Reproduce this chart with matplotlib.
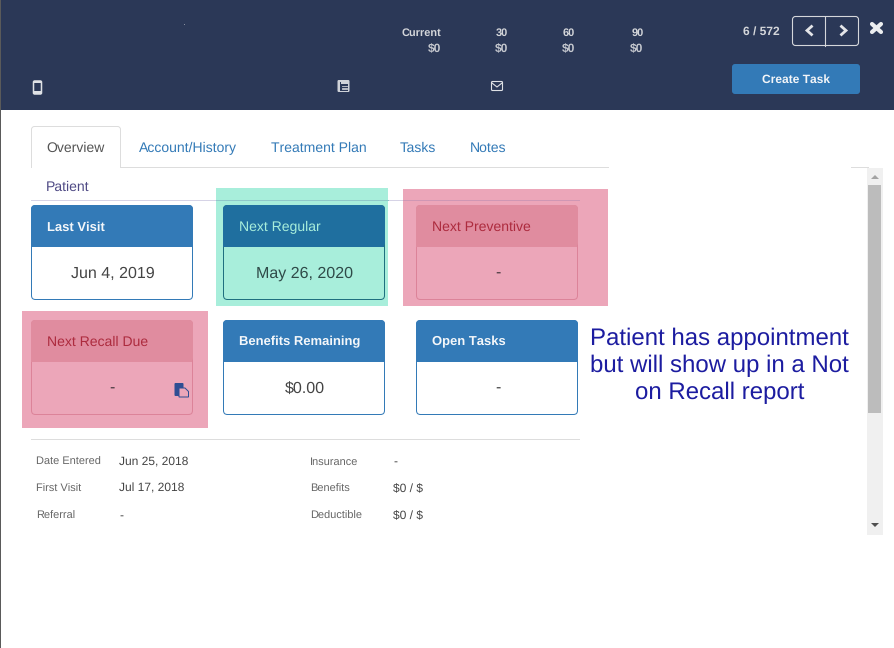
import matplotlib
matplotlib.use("Agg")
import matplotlib.pyplot as plt
from matplotlib.patches import Rectangle, FancyBboxPatch, Polygon

plt.rcParams['font.family'] = ['Liberation Sans', 'DejaVu Sans']
plt.rcParams['text.hinting'] = 'no_hinting'
plt.rcParams['text.hinting_factor'] = 1

# ---- content ----
aging_labels = ["Current", "30", "60", "90"]
aging_values = ["$0", "$0", "$0", "$0"]
pager_text = "6 / 572"
action_label = "Create Task"
tab_labels = ["Overview", "Account/History", "Treatment Plan", "Tasks", "Notes"]
section_label = "Patient"
card_titles = ["Last Visit", "Next Regular", "Next Preventive",
               "Next Recall Due", "Benefits Remaining", "Open Tasks"]
card_values = ["Jun 4, 2019", "May 26, 2020", "-", "-", "$0.00", "-"]
card_states = ["normal", "green", "red", "red", "normal", "normal"]
left_labels = ["Date Entered", "First Visit", "Referral"]
left_values = ["Jun 25, 2018", "Jul 17, 2018", "-"]
right_labels = ["Insurance", "Benefits", "Deductible"]
right_values = ["-", "$0 / $", "$0 / $"]
note_lines = ["Patient has appointment", "but will show up in a Not", "on Recall report"]

W, H = 895, 648
fig = plt.figure(figsize=(W / 100, H / 100), dpi=100, facecolor="white")
ax = fig.add_axes([0, 0, 1, 1])
ax.set_xlim(0, W)
ax.set_ylim(H, 0)
ax.axis("off")


def px(s):
    return s * 0.72


def T(x, y, s, size, color, ha="left", weight="normal", z=10):
    # y is the visual centre of the x-height band; placed via the baseline
    ax.text(x, y + 0.36 * size, s, fontsize=px(size), color=color, ha=ha, va="baseline",
            fontweight=weight, zorder=z, parse_math=False)


def R(x, y, w, h, fc, z=1):
    ax.add_patch(Rectangle((x, y), w, h, fc=fc, ec="none", lw=0, zorder=z))


def RR(x, y, w, h, fc, ec="none", lw=0.72, z=2, r=3):
    ax.add_patch(FancyBboxPatch((x + r, y + r), w - 2 * r, h - 2 * r,
                                boxstyle=f"round,pad={r},rounding_size={r}",
                                fc=fc, ec=ec, lw=lw, zorder=z))


def L(xs_, ys_, color, lw=0.72, z=3, **kw):
    ax.plot(xs_, ys_, color=color, lw=lw, zorder=z, **kw)


NAVY = "#2b3857"
BLUE = "#337ab7"

# header
R(0, 0, W, 110, NAVY)
R(0, 0, 1, H, "#5a5a5a", z=5)
ax.plot([184.5], [23.5], marker="s", ms=0.6, color="#8f96a6", zorder=3, mew=0)
for xr, lab, val in zip([441.5, 508, 575, 643.5], aging_labels, aging_values):
    T(xr, 32, lab, 11, "#d4d6da", ha="right", weight="bold")
    T(xr, 48, val, 12, "#c4c7ce", ha="right", weight="bold")
T(743, 30, pager_text, 12.2, "#d4d6da", weight="bold")

# pager buttons
RR(792.5, 16.5, 66, 29, "none", ec="#d5d7db", lw=0.8, z=3, r=3)
L([825.5, 825.5], [16.5, 45.5], "#d5d7db", lw=0.8)
L([811.5, 807, 811.5], [26.5, 30.5, 34.5], "#e4e5e8", lw=2.0, z=4, solid_joinstyle="miter")
L([841.5, 846, 841.5], [26.5, 30.5, 34.5], "#e4e5e8", lw=2.0, z=4, solid_joinstyle="miter")
# close cross
L([872, 881], [24, 32], "#eceef0", lw=3.0, z=4, solid_capstyle="round")
L([881, 872], [24, 32], "#eceef0", lw=3.0, z=4, solid_capstyle="round")
# action button
RR(732, 64, 128, 30, BLUE, z=3, r=3)
T(796, 78.5, action_label, 11.7, "#f2f5f8", ha="center", weight="bold")

# phone icon
RR(33.5, 81, 8, 13, "none", ec="#dfe1e5", lw=1.1, z=4, r=1.2)
R(34, 91, 7, 2.5, "#dfe1e5", z=4)
R(34, 81, 7, 1.5, "#dfe1e5", z=4)
# fax icon
RR(337.5, 80, 12, 12, "#cfd2d8", z=4, r=1.2)
R(341, 84, 7, 6.5, NAVY, z=5)
R(340, 81.5, 0.9, 9, NAVY, z=5)
for yy in (85.5, 87.5, 89.2):
    L([342, 347], [yy, yy], "#cfd2d8", lw=0.6, z=6)
# mail icon
RR(491.5, 81.5, 11, 9, "none", ec="#dfe1e5", lw=0.8, z=4, r=1)
L([492, 497, 502], [83, 87, 83], "#dfe1e5", lw=0.8, z=4)

# tabs
L([31, 608], [167, 167], "#dddddd")
L([851, 868], [167, 167], "#dddddd")
RR(31.5, 126.5, 89, 46, "white", ec="#dddddd", z=4, r=3)
R(31, 168, 91, 7, "white", z=5)
L([31.5, 31.5], [160, 167], "#dddddd", z=5)
L([120.5, 120.5], [160, 167], "#dddddd", z=5)
for x, lab, col in zip([46, 139, 271, 400, 470], tab_labels,
                       ["#555555", BLUE, BLUE, BLUE, BLUE]):
    T(x, 147, lab, 14, col, z=6)
T(46, 186, section_label, 14, "#4f4a85")

# highlights
R(216, 188, 172, 118, "#a8eedb", z=1)
R(403, 189, 205, 117, "#eca6b9", z=1)
R(22, 311, 186, 117, "#eca6b9", z=1)

# section rule
L([31, 579], [200, 200], "#d6d3e6", z=1.5)
L([216, 388], [200, 200], "#8fc8c9", z=1.6)
L([403, 579], [200, 200], "#cf97b4", z=1.6)

# cards
xs = [31, 223, 416, 31, 223, 416]
ys = [205, 205, 205, 320, 320, 320]
STY = {
    "normal": dict(head=BLUE, body="white", edge=BLUE, title="#f4f7fa", val="#444444"),
    "green": dict(head="#1f6f9f", body="#a8eedb", edge="#1f6f7f", title="#a8eedb", val="#2f4a48"),
    "red": dict(head="#e08c9f", body="#eca6b9", edge="#dc8399", title="#ad2b3e", val="#4a3a40"),
}
for x, y, title, val, st in zip(xs, ys, card_titles, card_values, card_states):
    s = STY[st]
    w, h = 162, 95
    RR(x + .5, y + .5, w - 1, h - 1, s["body"], ec=s["edge"], z=2, r=4)
    RR(x + .5, y + .5, w - 1, 41, s["head"], ec=s["head"], z=3, r=4)
    R(x + .5, y + 30, w - 1, 12, s["head"], z=3)
    bold = st == "normal"
    T(x + 16, y + 21, title, 13.1 if bold else 14, s["title"],
      weight="bold" if bold else "normal", z=6)
    cx = 112 if title == "Next Recall Due" else x + 81.5
    T(cx, y + 67, val, 16, s["val"], ha="center", z=6)

# recall icon
RR(174.5, 383, 9, 13, "#2f4e93", z=6, r=1)
ax.add_patch(Polygon([(179, 388), (185, 388), (188.5, 391.5), (188.5, 397), (179, 397)],
                     closed=True, fc="#eca6b9", ec="#2f4e93", lw=0.72, zorder=7))

# details
L([31, 579], [439, 439], "#dddddd", z=2)
for y, a, b, c, d in zip([460.5, 487.5, 514.5], left_labels, left_values, right_labels, right_values):
    T(36, y, a, 11, "#666666")
    T(119, y, b, 12, "#444444")
    T(310, y, c, 11, "#666666")
    T(393, y, d, 12, "#444444")

# annotation
for y, line in zip([336.5, 363.5, 390.5], note_lines):
    T(719.5, y, line, 24.4, "#1c1ca0", ha="center", z=8)

# scrollbar
R(867, 168, 16, 367, "#f0f0f0", z=2)
R(868, 185, 13, 228, "#bcbcbc", z=3)
ax.add_patch(Polygon([(871, 179), (875, 175), (879, 179)], closed=True, fc="#a3a3a3", ec="none", zorder=4))
ax.add_patch(Polygon([(871, 523), (875, 527), (879, 523)], closed=True, fc="#505050", ec="none", zorder=4))

fig.savefig("out.png", dpi=100, facecolor="white")
